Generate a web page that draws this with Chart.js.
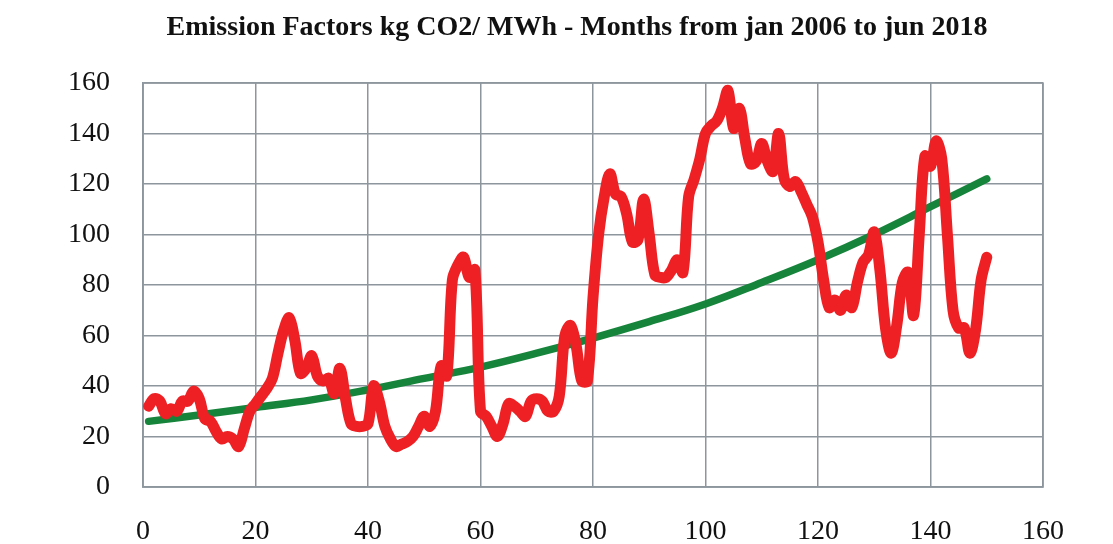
<!DOCTYPE html>
<html>
<head>
<meta charset="utf-8">
<script src="https://cdn.jsdelivr.net/npm/chart.js@4"></script>
<style>
  html, body { margin: 0; padding: 0; background: #ffffff; }
  #wrap { width: 1113px; height: 544px; }
</style>
</head>
<body>
<div id="wrap"><canvas id="emissionChart" width="1113" height="544"></canvas></div>
<script>
// Monthly emission factors (kg CO2 / MWh), months 1..150 = jan 2006 .. jun 2018
const emissionValues = [
  32, 35, 34, 29, 31, 30, 34, 34, 38, 35,
  27, 26, 22, 19, 20, 19, 16, 23, 30, 33,
  36, 39, 43, 53, 62, 67, 58, 45, 47, 52,
  44, 42, 43, 37, 47, 35, 25, 24, 24, 25,
  40, 34, 24, 19, 16, 17, 18, 20, 24, 28,
  24, 30, 48, 44, 82, 88, 91, 83, 86, 30,
  28, 24, 20, 25, 33, 32, 30, 28, 34, 35,
  34, 30, 30, 36, 60, 64, 56, 42, 42, 75,
  100, 115, 124, 116, 115, 108, 97, 98, 114, 100,
  84, 83, 83, 86, 90, 85, 115, 122, 130, 140,
  143, 145, 150, 157, 142, 150, 138, 128, 129, 136,
  129, 125, 140, 122, 119, 121, 117, 112, 107, 97,
  82, 71, 74, 70, 76, 71, 81, 89, 92, 101,
  86, 63, 53, 64, 81, 85, 68, 100, 131, 127,
  137, 130, 100, 70, 63, 63, 53, 62, 82, 91
];
const months = emissionValues.map((v, i) => i + 1);

// Exponential trend line
const trendMonths = [1, 10, 20, 30, 40, 50, 60, 70, 80, 90, 100, 110, 120, 130, 140, 150];
const trendValues = [26, 28.5, 31.5, 34.5, 38.5, 43, 47.5, 53, 59, 65.5, 72.5, 81, 90, 100, 111, 122];

const xTicks = [0, 20, 40, 60, 80, 100, 120, 140, 160];
const yTicks = [0, 20, 40, 60, 80, 100, 120, 140, 160];

const chartTitle = 'Emission Factors kg CO2/ MWh - Months from jan 2006 to jun 2018';
const serif = '"Liberation Serif", "DejaVu Serif", serif';

// Title drawn by hand so it can sit a bit left of the canvas centre, as in the original
const titlePlugin = {
  id: 'sideTitle',
  afterDraw(chart) {
    const c = chart.ctx;
    c.save();
    c.font = 'bold 28px ' + serif;
    c.fillStyle = '#111111';
    c.textAlign = 'center';
    c.textBaseline = 'middle';
    c.fillText(chartTitle, 577, 28);
    c.restore();
  }
};

// right and top edges of the plot frame
const framePlugin = {
  id: 'frame',
  beforeDatasetsDraw(chart) {
    const { ctx, chartArea: a } = chart;
    ctx.save();
    ctx.strokeStyle = '#8d969d';
    ctx.lineWidth = 1.5;
    ctx.strokeRect(a.left, a.top, a.right - a.left, a.bottom - a.top);
    ctx.restore();
  }
};

const ctx = document.getElementById('emissionChart').getContext('2d');
const emissionChart = new Chart(ctx, {
  type: 'line',
  data: {
    datasets: [{
      label: 'Emission factor',
      data: months.map((m, i) => ({ x: m, y: emissionValues[i] })),
      borderColor: '#ee2024',
      borderWidth: 11,
      pointRadius: 0,
      tension: 0.35,
      borderCapStyle: 'round',
      borderJoinStyle: 'round',
      fill: false
    }, {
      label: 'Trend',
      data: trendMonths.map((m, i) => ({ x: m, y: trendValues[i] })),
      borderColor: '#17843c',
      borderWidth: 7.5,
      pointRadius: 0,
      tension: 0.4,
      borderCapStyle: 'round',
      fill: false
    }]
  },
  options: {
    responsive: false,
    animation: false,
    layout: { padding: { left: 0, right: 70, top: 83, bottom: 0 } },
    plugins: {
      legend: { display: false },
      tooltip: { enabled: false },
      title: { display: false }
    },
    scales: {
      x: {
        type: 'linear',
        min: 0,
        max: 160,
        afterBuildTicks: scale => { scale.ticks = xTicks.map(v => ({ value: v })); },
        afterFit: scale => { scale.height = 57; },
        grid: { color: '#8d969d', lineWidth: 1.5, drawTicks: false },
        border: { color: '#8d969d', width: 1.5 },
        ticks: {
          color: '#111111',
          font: { family: serif, size: 28 },
          padding: 28,
          maxRotation: 0
        }
      },
      y: {
        min: 0,
        max: 160,
        afterBuildTicks: scale => { scale.ticks = yTicks.map(v => ({ value: v })); },
        afterFit: scale => { scale.width = 143; },
        grid: { color: '#8d969d', lineWidth: 1.5, drawTicks: false },
        border: { color: '#8d969d', width: 1.5 },
        ticks: {
          color: '#111111',
          font: { family: serif, size: 28 },
          padding: 33
        }
      }
    }
  },
  plugins: [framePlugin, titlePlugin]
});
</script>
</body>
</html>
